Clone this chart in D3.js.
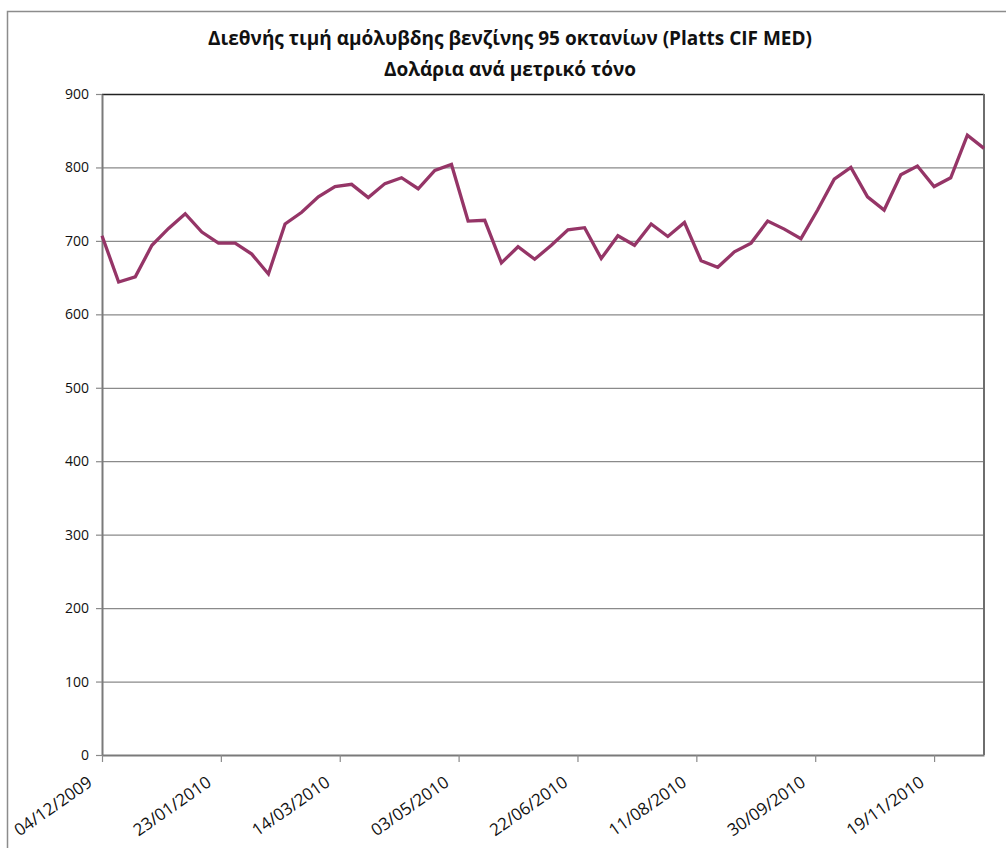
<!DOCTYPE html>
<html>
<head>
<meta charset="utf-8">
<script src="https://cdn.jsdelivr.net/npm/d3@7"></script>
<style>
  body { margin: 0; background: #fff; }
  svg { display: block; font-family: "Open Sans", "Noto Sans", sans-serif; }
</style>
</head>
<body>
<svg class="chart" width="1006" height="848"></svg>
<script>
// weekly dates (dd/mm/yyyy)
var dates = [
  "04/12/2009","11/12/2009","18/12/2009","25/12/2009",
  "01/01/2010","08/01/2010","15/01/2010","22/01/2010","29/01/2010",
  "05/02/2010","12/02/2010","19/02/2010","26/02/2010",
  "05/03/2010","12/03/2010","19/03/2010","26/03/2010",
  "02/04/2010","09/04/2010","16/04/2010","23/04/2010","30/04/2010",
  "07/05/2010","14/05/2010","21/05/2010","28/05/2010",
  "04/06/2010","11/06/2010","18/06/2010","25/06/2010",
  "02/07/2010","09/07/2010","16/07/2010","23/07/2010","30/07/2010",
  "06/08/2010","13/08/2010","20/08/2010","27/08/2010",
  "03/09/2010","10/09/2010","17/09/2010","24/09/2010",
  "01/10/2010","08/10/2010","15/10/2010","22/10/2010","29/10/2010",
  "05/11/2010","12/11/2010","19/11/2010","26/11/2010",
  "03/12/2010","10/12/2010"
];

// $ per metric tonne
var prices = [
  707, 644, 651, 694, 717, 737, 712, 697, 697, 682,
  655, 723, 739, 760, 774, 777, 759, 778, 786, 771,
  796, 804, 727, 728, 670, 692, 675, 694, 715, 718,
  676, 707, 694, 723, 706, 725, 673, 664, 685, 697,
  727, 716, 703, 742, 784, 800, 760, 742, 790, 802,
  774, 786, 844, 826
];

var xTickLabels = ["04/12/2009","23/01/2010","14/03/2010","03/05/2010",
                   "22/06/2010","11/08/2010","30/09/2010","19/11/2010"];
var yTicks = [0, 100, 200, 300, 400, 500, 600, 700, 800, 900];

var titleLines = ["Διεθνής τιμή αμόλυβδης βενζίνης 95 οκτανίων (Platts CIF MED)",
                  "Δολάρια ανά μετρικό τόνο"];

var parse = d3.timeParse("%d/%m/%Y"),
    fmt = d3.timeFormat("%d/%m/%Y");

var data = dates.map(function(d, i){ return {date: parse(d), value: prices[i]}; });

var svg = d3.select("svg.chart");
var plotL = 102, plotR = 984, plotT = 94, plotB = 755;

// outer chart frame
svg.append("rect")
  .attr("x", 7.5).attr("y", 11.5)
  .attr("width", 1010).attr("height", 850)
  .attr("fill", "#fff")
  .attr("stroke", "#8c8c8c")
  .attr("stroke-width", 1.5);

var x = d3.scaleTime()
  .domain(d3.extent(data, function(d){ return d.date; }))
  .range([plotL, plotR]);

var y = d3.scaleLinear()
  .domain([0, 900])
  .range([plotB, plotT]);

// gridlines
svg.append("g")
  .selectAll("line")
  .data(yTicks.slice(1))
  .enter().append("line")
  .attr("x1", plotL).attr("x2", plotR)
  .attr("y1", function(d){ return y(d) + 0.5; })
  .attr("y2", function(d){ return y(d) + 0.5; })
  .attr("stroke", "#8a8a8a")
  .attr("stroke-width", 1.2);

// plot area top + right edge
svg.append("line")
  .attr("x1", plotL).attr("x2", plotR)
  .attr("y1", plotT + 0.5).attr("y2", plotT + 0.5)
  .attr("stroke", "#222").attr("stroke-width", 1.5);
svg.append("line")
  .attr("x1", plotR).attr("x2", plotR)
  .attr("y1", plotT).attr("y2", plotB)
  .attr("stroke", "#6e6e6e").attr("stroke-width", 2);

// y axis
var yAxis = svg.append("g")
  .attr("transform", "translate(" + plotL + ",0)")
  .call(d3.axisLeft(y).tickValues(yTicks).tickSize(6).tickPadding(7).tickSizeOuter(0).tickFormat(d3.format("d")));
yAxis.select(".domain").attr("stroke", "#7a7a7a").attr("stroke-width", 2);
yAxis.selectAll(".tick line").attr("stroke", "#8a8a8a").attr("stroke-width", 1.2);
yAxis.selectAll("text")
  .attr("font-size", 14)
  .attr("font-family", "'Open Sans', sans-serif")
  .attr("fill", "#111");

// x axis
var xAxis = svg.append("g")
  .attr("transform", "translate(0," + plotB + ")")
  .call(d3.axisBottom(x)
    .tickValues(xTickLabels.map(parse))
    .tickSize(7)
    .tickSizeOuter(0)
    .tickFormat(fmt));
xAxis.select(".domain").attr("stroke", "#7a7a7a").attr("stroke-width", 2);
xAxis.selectAll(".tick line").attr("stroke", "#8a8a8a").attr("stroke-width", 1.2);
xAxis.selectAll("text")
  .attr("font-size", 17)
  .attr("font-family", "'Open Sans', sans-serif")
  .attr("fill", "#111")
  .attr("text-anchor", "end")
  .attr("dy", null)
  .attr("y", 0)
  .attr("transform", "translate(-9,30) rotate(-35)");

// series line
svg.append("path")
  .datum(data)
  .attr("fill", "none")
  .attr("stroke", "#953567")
  .attr("stroke-width", 3.3)
  .attr("stroke-linejoin", "miter")
  .attr("d", d3.line()
    .x(function(d){ return x(d.date); })
    .y(function(d){ return y(d.value); }));

// title
svg.append("g")
  .selectAll("text")
  .data(titleLines)
  .enter().append("text")
  .attr("x", 510)
  .attr("y", function(d, i){ return 45 + i * 31; })
  .attr("text-anchor", "middle")
  .attr("font-size", 19)
  .attr("font-weight", "bold")
  .attr("fill", "#111")
  .text(function(d){ return d; });
</script>
</body>
</html>
